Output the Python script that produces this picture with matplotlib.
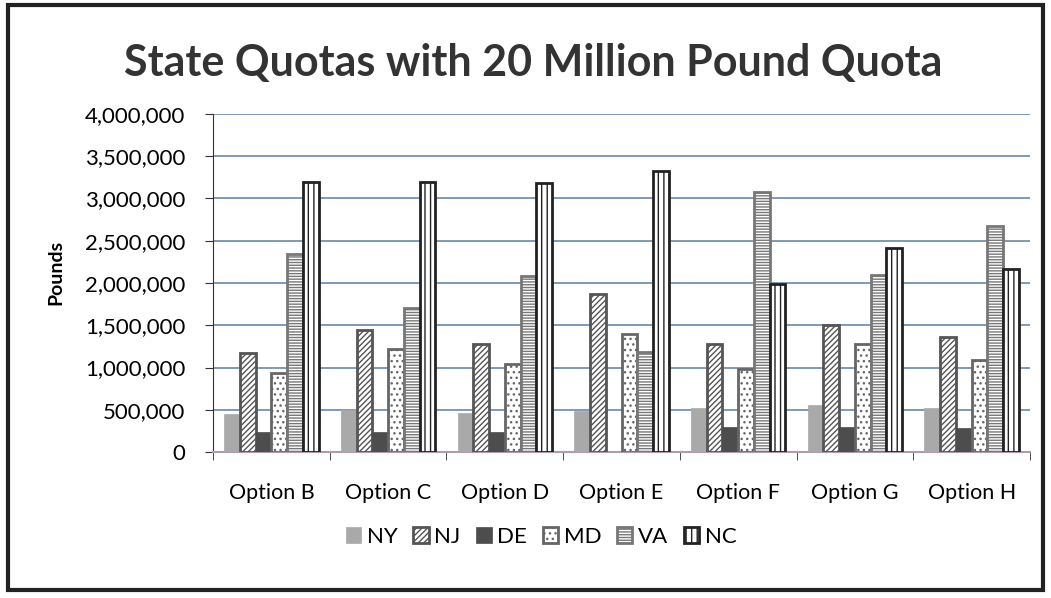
import numpy as np
import matplotlib
matplotlib.use("Agg")
import matplotlib.pyplot as plt
from matplotlib.patches import Rectangle
from matplotlib.ticker import FuncFormatter

plt.rcParams['font.family'] = ['Lato', 'DejaVu Sans']
plt.rcParams['hatch.linewidth'] = 1.0

options = ["Option B", "Option C", "Option D", "Option E", "Option F", "Option G", "Option H"]
states = ["NY", "NJ", "DE", "MD", "VA", "NC"]

ny = [450000, 500000, 460000, 485000, 520000, 556000, 520000]
nj = [1170000, 1440000, 1280000, 1870000, 1280000, 1500000, 1360000]
de = [237000, 235000, 235000, 0, 300000, 296000, 285000]
md = [940000, 1220000, 1040000, 1400000, 980000, 1280000, 1090000]
va = [2340000, 1700000, 2080000, 1180000, 3080000, 2090000, 2680000]
nc = [3200000, 3190000, 3180000, 3330000, 1990000, 2420000, 2160000]

series = [ny, nj, de, md, va, nc]
styles = [
    dict(color="#a9a9a9", edgecolor="#a9a9a9", hatch=None, lw=0.5),
    dict(color="white", edgecolor="#555555", hatch="//////", lw=2.0),
    dict(color="#4d4d4d", edgecolor="#4d4d4d", hatch=None, lw=0.5),
    dict(color="white", edgecolor="#666666", hatch="...", lw=2.0),
    dict(color="white", edgecolor="#777777", hatch="------", lw=2.0),
    dict(color="white", edgecolor="#222222", hatch="|||", lw=2.0),
]

fig = plt.figure(figsize=(10.51, 5.98), dpi=100)
ax = fig.add_axes([0.2027, 0.2441, 0.7773, 0.5653])

x = np.arange(len(options))
w = 0.135
for i, (vals, st) in enumerate(zip(series, styles)):
    ax.bar(x + (i - 2.5) * w, vals, width=w, color=st["color"], edgecolor=st["edgecolor"],
           hatch=st["hatch"], linewidth=st["lw"], label=states[i], zorder=3)

ax.set_xlim(-0.5, len(options) - 0.5)
ax.set_ylim(0, 4000000)
ax.set_yticks(np.arange(0, 4000001, 500000))
ax.yaxis.set_major_formatter(FuncFormatter(lambda v, p: f"{int(v):,}"))
ax.set_xticks(x)
ax.set_xticklabels(options)
ax.set_xticks(np.arange(-0.5, len(options)), minor=True)
ax.tick_params(axis="x", which="major", length=0, pad=22, labelsize=15.5)
ax.tick_params(axis="x", which="minor", length=6, color="#333333")
ax.tick_params(axis="y", length=6, color="#333333", labelsize=16, pad=14)
ax.grid(axis="y", color="#5a7fa6", linewidth=1.1, zorder=0)
for s in ["top", "right"]:
    ax.spines[s].set_visible(False)
ax.spines["left"].set_color("#333333")
ax.spines["bottom"].set_color("#b09ab0")
ax.spines["bottom"].set_linewidth(1.5)

ax.set_ylabel("Pounds", fontsize=14, fontweight="bold", labelpad=26)
ax.yaxis.set_label_coords(-0.182, 0.53)
fig.text(0.507, 0.895, "State Quotas with 20 Million Pound Quota", ha="center", va="center",
         fontsize=31, fontweight="bold", color="#333333")

fig.legend(loc="center", bbox_to_anchor=(0.515, 0.102), ncol=6, frameon=False, fontsize=16,
           handlelength=0.7, handleheight=0.7, handletextpad=0.25, columnspacing=0.7)

fig.patches.append(Rectangle((0.008, 0.013), 0.984, 0.978, transform=fig.transFigure,
                             fill=False, edgecolor="#222222", linewidth=3))

fig.savefig("out.png", dpi=100)
